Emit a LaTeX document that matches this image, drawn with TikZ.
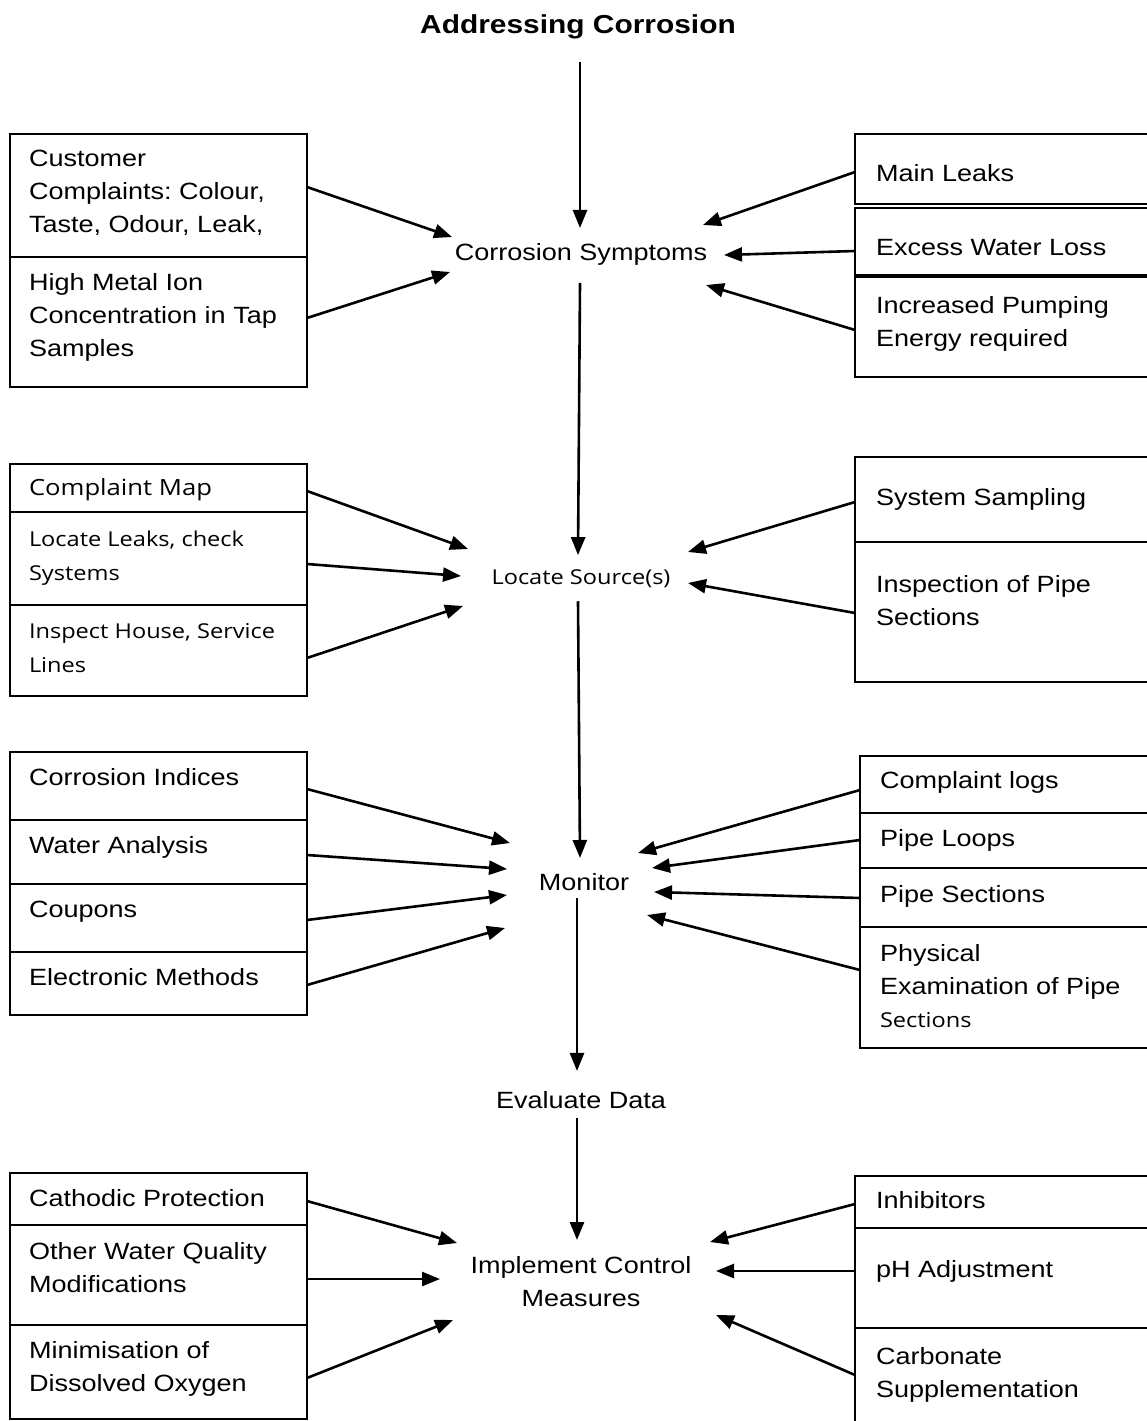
\documentclass[tikz,border=0pt]{standalone}
\usepackage{fontspec}
\setmainfont{Liberation Sans}[FakeStretch=1.15]
\newfontfamily\humfam{Open Sans}[FakeStretch=1.15]
\usetikzlibrary{arrows.meta,calc}
\frenchspacing

\newcommand\bodyfont{\fontsize{23.5}{33}\selectfont}
\newcommand\humfont{\humfam\fontsize{20.5}{34}\selectfont}
\newcommand\titlefont{\bfseries\fontsize{26}{30}\selectfont}

\tikzset{
  cell/.style={draw, line width=2.6, inner sep=0, outer sep=0, anchor=north west},
  txt/.style={inner sep=0, outer sep=0, anchor=north west, align=left, font=\bodyfont},
  htxt/.style={txt, font=\humfont},
  lbl/.style={inner sep=0, outer sep=0, anchor=base, font=\bodyfont},
  arr/.style={line width=2.6, -{Triangle[length=18pt,width=14pt]}},
}

\begin{document}
\begin{tikzpicture}[x=1pt, y=-1pt]
\path[use as bounding box] (0,0) rectangle (1147,1421);
\clip (0,0) rectangle (1147,1421);

% ---- main chain ----
\node[lbl, font=\titlefont] (title) at (578,33.5) {Addressing Corrosion};
\node[lbl] (cs)  at (581,260) {Corrosion Symptoms};
\node[lbl, font=\humfont] (ls) at (581,584) {Locate Source(s)};
\node[lbl] (mon) at (584,890) {Monitor};
\node[lbl] (ed)  at (581,1108) {Evaluate Data};
\node[inner sep=0, outer sep=0, anchor=north, align=center, font=\bodyfont] (icm) at (581,1256)
  {Implement Control\\Measures};

\draw[arr] ($(title.south)+(2,23)$) -- ($(cs.north)+(-1,-15)$);
\draw[arr] ($(cs.south)+(-1,18)$) -- ($(ls.north)+(-3,-14)$);
\draw[arr] ($(ls.south)+(-3,14)$) -- ($(mon.north)+(-4,-15)$);
\draw[arr] ($(mon.south)+(-7,8)$) -- ($(ed.north)+(-4,-20)$);
\draw[arr] ($(ed.south)+(-4,10)$) -- ($(icm.north)+(-4,-16)$);

% ---- symptoms ----
\node[cell, minimum width=297, minimum height=123] (L1a) at (10,134) {};
\node[cell, minimum width=297, minimum height=130] (L1b) at (10,257) {};
\node[txt] (tL1a) at (29,150) {Customer\\Complaints: Colour,\\Taste, Odour, Leak,};
\node[txt] (tL1b) at (29,273) {High Metal Ion\\Concentration in Tap\\Samples};

\node[cell, minimum width=320, minimum height=70]  (R1a) at (855,134) {};
\node[cell, minimum width=320, minimum height=68]  (R1b) at (855,208) {};
\node[cell, minimum width=320, minimum height=101] (R1c) at (855,276) {};
\draw[line width=4.5] (R1b.south west) -- (R1b.south east);
\node[txt] (tR1a) at (876,164) {Main Leaks};
\node[txt] (tR1b) at (876,239) {Excess Water Loss};
\node[txt] (tR1c) at (876,296) {Increased Pumping\\Energy required};

\draw[arr] ($(L1a.north east)+(0,53)$) -- ($(cs.base)+(-129,-23)$);
\draw[arr] ($(L1b.north east)+(0,61)$) -- ($(cs.base)+(-131,12)$);
\draw[arr] ($(R1a.north west)+(0,38)$) -- ($(cs.base)+(122,-35)$);
\draw[arr] ($(R1b.north west)+(0,43)$) -- ($(cs.base)+(143,-5)$);
\draw[arr] ($(R1c.north west)+(0,54)$) -- ($(cs.base)+(125,25)$);

% ---- locate source ----
\node[cell, minimum width=297, minimum height=48] (L2a) at (10,464) {};
\node[cell, minimum width=297, minimum height=93] (L2b) at (10,512) {};
\node[cell, minimum width=297, minimum height=91] (L2c) at (10,605) {};
\node[htxt, font=\humfam\fontsize{22.3}{34}\selectfont] (tL2a) at (29,479) {Complaint Map};
\node[htxt] (tL2b) at (29,531) {Locate Leaks, check\\Systems};
\node[htxt] (tL2c) at (29,623) {Inspect House, Service\\Lines};

\node[cell, minimum width=320, minimum height=85]  (R2a) at (855,457) {};
\node[cell, minimum width=320, minimum height=140] (R2b) at (855,542) {};
\node[txt] (tR2a) at (876,488) {System Sampling};
\node[txt] (tR2b) at (876,575) {Inspection of Pipe\\Sections};

\draw[arr] ($(L2a.north east)+(0,27)$) -- ($(ls.base)+(-113,-35)$);
\draw[arr] ($(L2b.north east)+(0,52)$) -- ($(ls.base)+(-120,-8)$);
\draw[arr] ($(L2c.north east)+(0,53)$) -- ($(ls.base)+(-118,22)$);
\draw[arr] ($(R2a.north west)+(0,45)$) -- ($(ls.base)+(107,-32)$);
\draw[arr] ($(R2b.north west)+(0,71)$) -- ($(ls.base)+(107,-1)$);

% ---- monitor ----
\node[cell, minimum width=297, minimum height=68] (L3a) at (10,752) {};
\node[cell, minimum width=297, minimum height=64] (L3b) at (10,820) {};
\node[cell, minimum width=297, minimum height=68] (L3c) at (10,884) {};
\node[cell, minimum width=297, minimum height=63] (L3d) at (10,952) {};
\node[txt] (tL3a) at (29,768) {Corrosion Indices};
\node[txt] (tL3b) at (29,836) {Water Analysis};
\node[txt] (tL3c) at (29,901) {Coupons};
\node[txt] (tL3d) at (29,968) {Electronic Methods};

\node[cell, minimum width=315, minimum height=57]  (R3a) at (860,756) {};
\node[cell, minimum width=315, minimum height=55]  (R3b) at (860,813) {};
\node[cell, minimum width=315, minimum height=59]  (R3c) at (860,868) {};
\node[cell, minimum width=315, minimum height=121] (R3d) at (860,927) {};
\node[txt] (tR3a) at (880,771) {Complaint logs};
\node[txt] (tR3b) at (880,829) {Pipe Loops};
\node[txt] (tR3c) at (880,885) {Pipe Sections};
\node[txt] (tR3d) at (880,944) {Physical\\Examination of Pipe\\{\humfont Sections}};

\draw[arr] ($(L3a.north east)+(0,37)$) -- ($(mon.base)+(-74,-47)$);
\draw[arr] ($(L3b.north east)+(0,35)$) -- ($(mon.base)+(-77,-21)$);
\draw[arr] ($(L3c.north east)+(0,36)$) -- ($(mon.base)+(-77,5)$);
\draw[arr] ($(L3d.north east)+(0,33)$) -- ($(mon.base)+(-79,38)$);
\draw[arr] ($(R3a.north west)+(0,34)$) -- ($(mon.base)+(54,-37)$);
\draw[arr] ($(R3b.north west)+(0,27)$) -- ($(mon.base)+(68,-22)$);
\draw[arr] ($(R3c.north west)+(0,30)$) -- ($(mon.base)+(70,2)$);
\draw[arr] ($(R3d.north west)+(0,43)$) -- ($(mon.base)+(63,25)$);

% ---- control measures ----
\node[cell, minimum width=297, minimum height=52]  (L4a) at (10,1173) {};
\node[cell, minimum width=297, minimum height=100] (L4b) at (10,1225) {};
\node[cell, minimum width=297, minimum height=94]  (L4c) at (10,1325) {};
\node[txt] (tL4a) at (29,1189) {Cathodic Protection};
\node[txt] (tL4b) at (29,1242) {Other Water Quality\\Modifications};
\node[txt] (tL4c) at (29,1341) {Minimisation of\\Dissolved Oxygen};

\node[cell, minimum width=320, minimum height=52]  (R4a) at (855,1176) {};
\node[cell, minimum width=320, minimum height=100] (R4b) at (855,1228) {};
\node[cell, minimum width=320, minimum height=120] (R4c) at (855,1328) {};
\node[txt] (tR4a) at (876,1191) {Inhibitors};
\node[txt] (tR4b) at (876,1260) {pH Adjustment};
\node[txt] (tR4c) at (876,1347) {Carbonate\\Supplementation};

\draw[arr] ($(L4a.north east)+(0,28)$) -- ($(icm.north)+(-124,-13)$);
\draw[arr] ($(L4b.north east)+(0,54)$) -- ($(icm.north)+(-141,23)$);
\draw[arr] ($(L4c.north east)+(0,53)$) -- ($(icm.north)+(-128,64)$);
\draw[arr] ($(R4a.north west)+(0,28)$) -- ($(icm.north)+(129,-14)$);
\draw[arr] ($(R4b.north west)+(0,43)$) -- ($(icm.north)+(135,15)$);
\draw[arr] ($(R4c.north west)+(0,47)$) -- ($(icm.north)+(135,59)$);
\end{tikzpicture}
\end{document}
